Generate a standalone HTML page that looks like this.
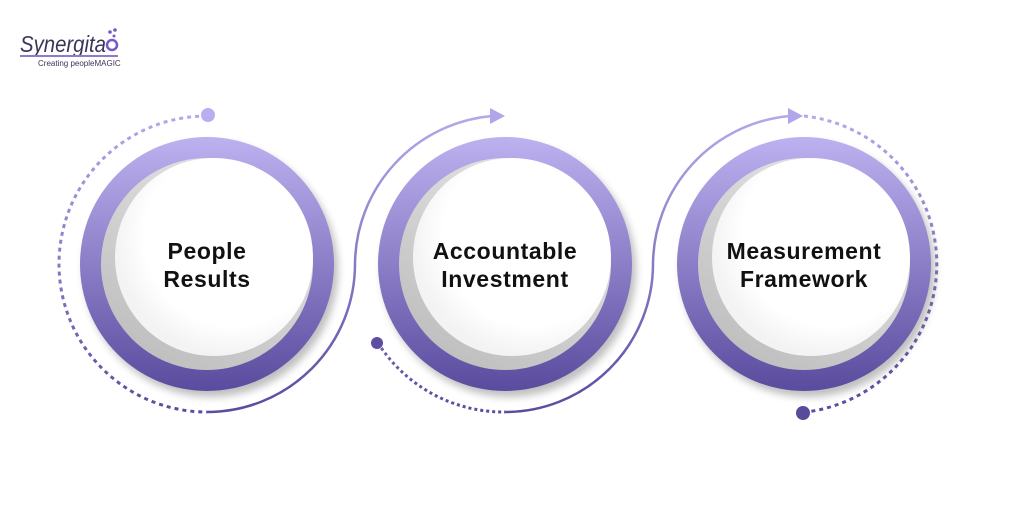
<!DOCTYPE html>
<html><head><meta charset="utf-8"><style>
html,body{margin:0;padding:0;background:#fff;width:1011px;height:530px;overflow:hidden}
svg{display:block}
</style></head><body>
<svg width="1011" height="530" viewBox="0 0 1011 530" xmlns="http://www.w3.org/2000/svg">
<defs>
<linearGradient id="ring" x1="0" y1="0" x2="0" y2="1">
<stop offset="0" stop-color="#bdb1f0"/><stop offset="1" stop-color="#5a4b9e"/>
</linearGradient>
<linearGradient id="ln" gradientUnits="userSpaceOnUse" x1="0" y1="110" x2="0" y2="415">
<stop offset="0" stop-color="#b7a9ec"/><stop offset="1" stop-color="#5b4a9e"/>
</linearGradient>
<filter id="sh" x="-30%" y="-30%" width="160%" height="160%"><feGaussianBlur stdDeviation="4"/></filter>
<radialGradient id="inner" cx="0.6" cy="0.4" r="0.6"><stop offset="0.75" stop-color="#fff"/><stop offset="1" stop-color="#f3f3f3"/></radialGradient>
<linearGradient id="grey" x1="0.8" y1="0" x2="0.2" y2="1"><stop offset="0" stop-color="#e6e6e6"/><stop offset="1" stop-color="#bdbdbd"/></linearGradient>
</defs>
<!-- logo -->
<text x="20" y="52" font-family="Liberation Sans, sans-serif" font-style="italic" font-size="23" fill="#3d3557" textLength="86" lengthAdjust="spacingAndGlyphs">Synergita</text>
<circle cx="112" cy="45" r="5" fill="none" stroke="#7a56c7" stroke-width="2.5"/>
<circle cx="110" cy="32" r="1.8" fill="#7a56c7"/><circle cx="115" cy="30" r="1.8" fill="#7a56c7"/><circle cx="114" cy="36" r="1.5" fill="#7a56c7"/>
<rect x="20" y="55" width="98" height="2" fill="#8f7ac9"/>
<text x="38" y="66" font-family="Liberation Sans, sans-serif" font-size="8" fill="#3d3557">Creating peopleMAGIC</text>

<g fill="none" stroke="url(#ln)" stroke-width="2.5">
<path d="M207 116 A148 148 0 0 0 207 412" stroke-dasharray="4 4" stroke-width="3"/>
<path d="M207 412 A148 148 0 0 0 355 264 A150 150 0 0 1 492 116"/>
<path d="M378 343 A149 149 0 0 0 505 412" stroke-dasharray="3 3" stroke-width="3"/>
<path d="M505 412 A148 148 0 0 0 653 264 A150 150 0 0 1 790 116"/>
<path d="M804 116 A149 149 0 0 1 806 412" stroke-dasharray="4 4" stroke-width="3"/>
</g>
<circle cx="208" cy="115" r="7" fill="#bbaef0"/>
<circle cx="377" cy="343" r="6" fill="#5e4ea2"/>
<circle cx="803" cy="413" r="7" fill="#5a4a9c"/>
<path d="M490 108 L505 116 L490 124 Z" fill="#b3a5eb"/>
<path d="M788 108 L803 116 L788 124 Z" fill="#b3a5eb"/>

<g font-family="Liberation Sans, sans-serif" font-weight="bold" font-size="23" letter-spacing="0.6" fill="#111" text-anchor="middle">
<g transform="translate(207,264)">
<circle cx="4" cy="6" r="127" fill="#000" opacity="0.25" filter="url(#sh)"/>
<circle r="127" fill="url(#ring)"/>
<circle r="106" fill="url(#grey)"/>
<circle cx="7" cy="-7" r="99" fill="url(#inner)"/>
<text y="-5">People</text><text y="23">Results</text>
</g>
<g transform="translate(505,264)">
<circle cx="4" cy="6" r="127" fill="#000" opacity="0.25" filter="url(#sh)"/>
<circle r="127" fill="url(#ring)"/>
<circle r="106" fill="url(#grey)"/>
<circle cx="7" cy="-7" r="99" fill="url(#inner)"/>
<text y="-5">Accountable</text><text y="23">Investment</text>
</g>
<g transform="translate(804,264)">
<circle cx="4" cy="6" r="127" fill="#000" opacity="0.25" filter="url(#sh)"/>
<circle r="127" fill="url(#ring)"/>
<circle r="106" fill="url(#grey)"/>
<circle cx="7" cy="-7" r="99" fill="url(#inner)"/>
<text y="-5">Measurement</text><text y="23">Framework</text>
</g>
</g>
</svg>
</body></html>
